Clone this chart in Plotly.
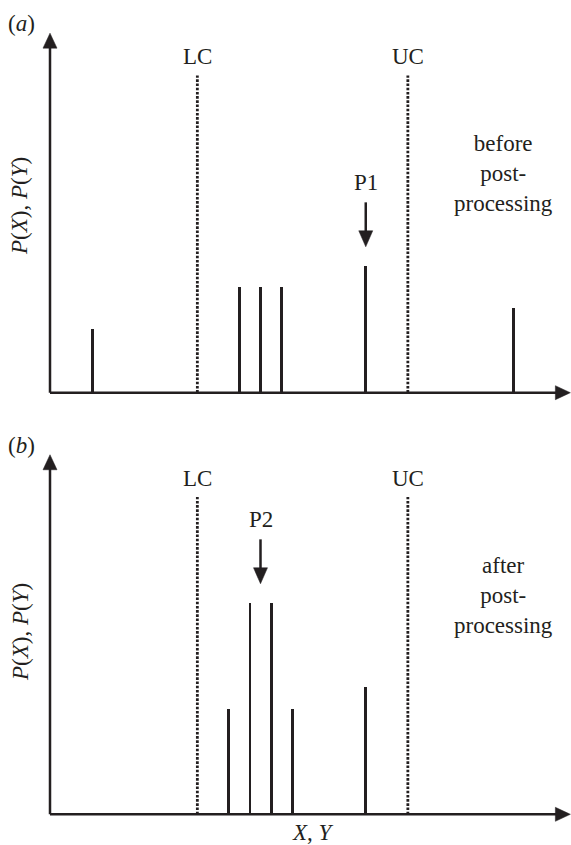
import plotly.graph_objects as go

# ---------------- data ----------------
top_x = [2, 9, 10, 11, 15, 22]
top_h = [1.5, 2.5, 2.5, 2.5, 3.0, 2.0]
bot_x = [8.5, 9.5, 10.5, 11.5, 15]
bot_h = [2.5, 5.0, 5.0, 2.5, 3.0]
cut_x = [7, 17]            # LC, UC
cut_labels = ["LC", "UC"]
cut_top = 7.5
peak_top = {"label": "P1", "x": 15, "h": 3.0}
peak_bot = {"label": "P2", "x": 10, "h": 5.0}
note_top = "before<br>post-<br>processing"
note_bot = "after<br>post-<br>processing"
ylabel = "<i>P</i>(<i>X</i>), <i>P</i>(<i>Y</i>)"
xlabel = "<i>X</i>, <i>Y</i>"

W, H = 571, 845
INK = "#231f20"
FONT = "Liberation Serif"
FS = 23

X_AXIS_END = 24.72
Y_AXIS_END = 8.5

fig = go.Figure()

# axes: px per unit x = 21.05, y = 42.3
xr = [-50 / 21.05, (W - 50) / 21.05]
yr_top = [(392.7 - 420) / 42.3, (392.7 - 20) / 42.3]
yr_bot = [(814.3 - 845) / 42.3, (814.3 - 440) / 42.3]

common_ax = dict(visible=False, showgrid=False, zeroline=False, fixedrange=True)
fig.update_layout(
    width=W, height=H,
    margin=dict(l=0, r=0, t=0, b=0),
    paper_bgcolor="white", plot_bgcolor="white",
    showlegend=False,
    bargap=0,
    xaxis=dict(domain=[0, 1], range=xr, anchor="y", **common_ax),
    yaxis=dict(domain=[(H - 420) / H, (H - 20) / H], range=yr_top, anchor="x", **common_ax),
    xaxis2=dict(domain=[0, 1], range=xr, anchor="y2", **common_ax),
    yaxis2=dict(domain=[0, (H - 440) / H], range=yr_bot, anchor="x2", **common_ax),
    font=dict(family=FONT, size=FS, color=INK),
)

panels = [
    ("x", "y", top_x, top_h, peak_top, note_top, "(<i>a</i>)", 23, 206),
    ("x2", "y2", bot_x, bot_h, peak_bot, note_bot, "(<i>b</i>)", 445, 632),
]

TXT = dict(size=FS, family=FONT, color=INK)

for xa, ya, bx, bh, peak, note, tag, tag_py, ylab_py in panels:
    # bars
    fig.add_trace(go.Bar(x=bx, y=bh, width=0.14, marker=dict(color=INK, line=dict(width=0)),
                         xaxis=xa, yaxis=ya, hoverinfo="skip"))
    # LC / UC dotted lines
    for cx, lab in zip(cut_x, cut_labels):
        fig.add_trace(go.Scatter(x=[cx, cx], y=[0, cut_top], mode="lines",
                                 line=dict(color=INK, width=2.8, dash="2.6px,1.6px"),
                                 xaxis=xa, yaxis=ya, hoverinfo="skip"))
        fig.add_annotation(x=cx, y=cut_top + 0.44, xref=xa, yref=ya, text=lab,
                           xanchor="center", yanchor="middle",
                           showarrow=False, font=TXT)
    # axis lines
    fig.add_shape(type="line", xref=xa, yref=ya, x0=0, y0=0, x1=0, y1=Y_AXIS_END - 12 / 42.3,
                  line=dict(color=INK, width=2.5))
    fig.add_shape(type="line", xref=xa, yref=ya, x0=0, y0=0, x1=X_AXIS_END - 12 / 21.05, y1=0,
                  line=dict(color=INK, width=2.5))
    # axis arrowheads
    fig.add_shape(type="path", xref=xa, yref=ya, xsizemode="pixel", ysizemode="pixel",
                  xanchor=0, yanchor=Y_AXIS_END, path="M-7,-15 L7,-15 L0,0 Z",
                  fillcolor=INK, line=dict(color=INK, width=0.5))
    fig.add_shape(type="path", xref=xa, yref=ya, xsizemode="pixel", ysizemode="pixel",
                  xanchor=X_AXIS_END, yanchor=0, path="M-15,-7 L-15,7 L0,0 Z",
                  fillcolor=INK, line=dict(color=INK, width=0.5))
    # peak arrow
    tip = peak["h"] + 0.45
    fig.add_shape(type="line", xref=xa, yref=ya, x0=peak["x"], y0=tip + 1.05,
                  x1=peak["x"], y1=tip + 12 / 42.3, line=dict(color=INK, width=2.5))
    fig.add_shape(type="path", xref=xa, yref=ya, xsizemode="pixel", ysizemode="pixel",
                  xanchor=peak["x"], yanchor=tip, path="M-7,16 L7,16 L0,0 Z",
                  fillcolor=INK, line=dict(color=INK, width=0.5))
    fig.add_annotation(x=peak["x"], y=tip + 1.52, xref=xa, yref=ya, text=peak["label"],
                       xanchor="center", yanchor="middle", showarrow=False, font=TXT)
    # note text
    fig.add_annotation(x=21.52, y=5.18, xref=xa, yref=ya, text=note,
                       xanchor="center", yanchor="middle",
                       showarrow=False, align="center", font=TXT)
    # panel tag
    fig.add_annotation(x=21 / W, y=1 - tag_py / H, xref="paper", yref="paper", text=tag,
                       xanchor="center", yanchor="middle", showarrow=False, font=TXT)
    # y label
    fig.add_annotation(x=20 / W, y=1 - ylab_py / H, xref="paper", yref="paper", text=ylabel,
                       xanchor="center", yanchor="middle",
                       textangle=-90, showarrow=False, font=TXT)

# x label
fig.add_annotation(x=313 / W, y=1 - 832 / H, xref="paper", yref="paper", text=xlabel,
                   xanchor="center", yanchor="middle", showarrow=False, font=TXT)

fig.write_html("out.html")
